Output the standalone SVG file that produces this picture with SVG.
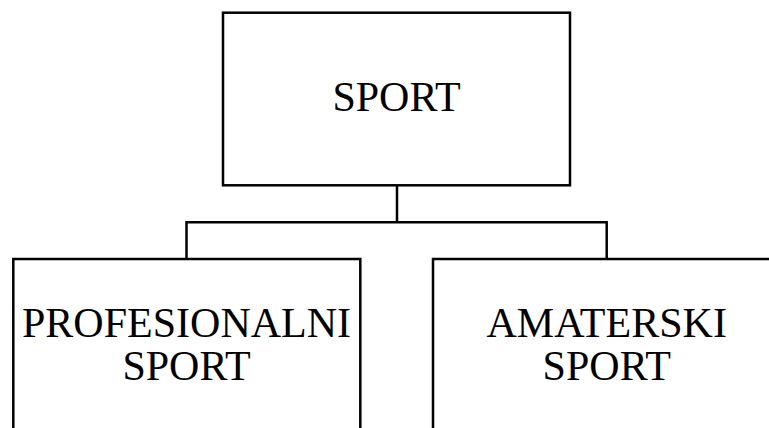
<svg xmlns="http://www.w3.org/2000/svg" width="769" height="428" viewBox="0 0 769 428">
<style>
.box{fill:#fff;stroke:#000;stroke-width:2.5}
.lbl{font-family:"Liberation Serif","Times New Roman",serif;font-size:42px;fill:#000;text-anchor:middle}
.con{fill:none;stroke:#000;stroke-width:2.5}
</style>
<rect width="769" height="428" fill="#fff"/>
<g id="connectors">
<path class="con" d="M397,186 V222.3 M186.5,259 V222.3 H606.7 V259"/>
</g>
<g id="sport">
<rect class="box" x="223" y="12.7" width="347" height="172.6"/>
<text class="lbl" x="396.5" y="111">SPORT</text>
</g>
<g id="profesionalni">
<rect class="box" x="13.3" y="259" width="347" height="200"/>
<text class="lbl" x="186.5" y="336.7">PROFESIONALNI</text>
<text class="lbl" x="186.5" y="380">SPORT</text>
</g>
<g id="amaterski">
<rect class="box" x="433" y="259" width="347" height="200"/>
<text class="lbl" x="606.7" y="336.7">AMATERSKI</text>
<text class="lbl" x="606.7" y="380">SPORT</text>
</g>
</svg>
